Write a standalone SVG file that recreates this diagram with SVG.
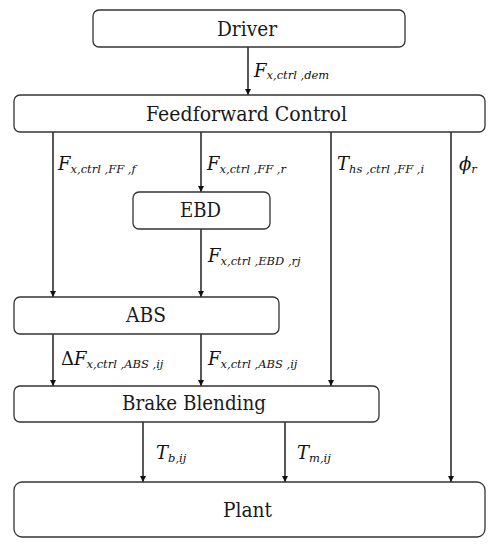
<svg xmlns="http://www.w3.org/2000/svg" width="498" height="550" viewBox="0 0 498 550">
<style>
.box{fill:#fff;stroke:#333;stroke-width:1.3}
.t{font-family:"DejaVu Serif","Liberation Serif",serif;font-size:19.5px;fill:#1a1a1a;text-anchor:middle}
.m{font-family:"DejaVu Serif","Liberation Serif",serif;font-style:italic;font-size:18px;fill:#111}
.s{font-size:11.5px}
.c{stroke:#111;stroke-width:1.4;fill:none;marker-end:url(#ah)}
</style>
<defs>
<marker id="ah" viewBox="0 0 10 10" refX="10" refY="5" markerWidth="6" markerHeight="6" markerUnits="userSpaceOnUse" orient="auto">
<path d="M0,0 L10,5 L0,10 z" fill="#111"/>
</marker>
</defs>
<rect width="498" height="550" fill="#fff"/>
<g id="connectors">
<line class="c" x1="248" y1="47" x2="248" y2="95"/>
<line class="c" x1="53" y1="132" x2="53" y2="297"/>
<line class="c" x1="201" y1="132" x2="201" y2="192"/>
<line class="c" x1="331" y1="132" x2="331" y2="386"/>
<line class="c" x1="451" y1="132" x2="451" y2="482"/>
<line class="c" x1="201" y1="229" x2="201" y2="297"/>
<line class="c" x1="53" y1="334" x2="53" y2="386"/>
<line class="c" x1="201" y1="334" x2="201" y2="386"/>
<line class="c" x1="143" y1="422" x2="143" y2="482"/>
<line class="c" x1="285" y1="422" x2="285" y2="482"/>
<text class="m" x="254" y="77">F<tspan class="s" dy="2">x,ctrl ,dem</tspan></text>
<text class="m" x="58" y="170">F<tspan class="s" dy="3">x,ctrl ,FF ,f</tspan></text>
<text class="m" x="207" y="170">F<tspan class="s" dy="3">x,ctrl ,FF ,r</tspan></text>
<text class="m" x="337" y="170">T<tspan class="s" dy="3">hs ,ctrl ,FF ,i</tspan></text>
<text class="m" x="459" y="170">ϕ<tspan class="s" dy="3">r</tspan></text>
<text class="m" x="208" y="262">F<tspan class="s" dy="3">x,ctrl ,EBD ,rj</tspan></text>
<text class="m" x="61" y="365"><tspan font-style="normal">Δ</tspan>F<tspan class="s" dy="3">x,ctrl ,ABS ,ij</tspan></text>
<text class="m" x="208" y="365">F<tspan class="s" dy="3">x,ctrl ,ABS ,ij</tspan></text>
<text class="m" x="156" y="459">T<tspan class="s" dy="3">b,ij</tspan></text>
<text class="m" x="297" y="459">T<tspan class="s" dy="3">m,ij</tspan></text>
</g>
<g id="driver">
<rect class="box" x="93" y="10" width="312" height="37" rx="6"/>
<text class="t" x="247" y="36" textLength="60" lengthAdjust="spacingAndGlyphs">Driver</text>
</g>
<g id="feedforward">
<rect class="box" x="14" y="95" width="471" height="37" rx="6"/>
<text class="t" x="246.5" y="121" textLength="201" lengthAdjust="spacingAndGlyphs">Feedforward Control</text>
</g>
<g id="ebd">
<rect class="box" x="133" y="192" width="137" height="37" rx="6"/>
<text class="t" x="200.5" y="217" textLength="41" lengthAdjust="spacingAndGlyphs">EBD</text>
</g>
<g id="abs">
<rect class="box" x="14" y="297" width="265" height="37" rx="6"/>
<text class="t" x="146" y="322" textLength="40" lengthAdjust="spacingAndGlyphs">ABS</text>
</g>
<g id="brake-blending">
<rect class="box" x="14" y="386" width="365" height="36" rx="6"/>
<text class="t" x="194" y="410" textLength="144" lengthAdjust="spacingAndGlyphs">Brake Blending</text>
</g>
<g id="plant">
<rect class="box" x="14" y="482" width="471" height="55" rx="8"/>
<text class="t" x="247.5" y="517" textLength="49" lengthAdjust="spacingAndGlyphs">Plant</text>
</g>
</svg>
